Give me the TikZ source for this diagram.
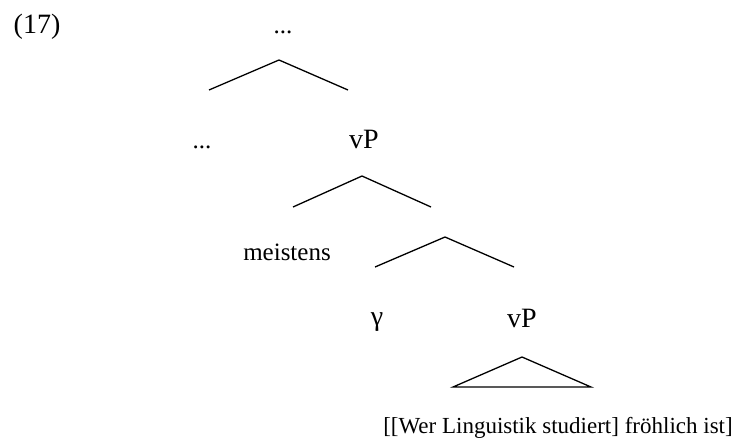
\documentclass[tikz,border=0pt]{standalone}
\usepackage{fontspec}
\setmainfont{Liberation Serif}
\usetikzlibrary{positioning}

\begin{document}
\begin{tikzpicture}[
  x=1pt, y=-1pt,
  cat/.style={inner sep=0pt, anchor=base, font=\fontsize{28}{32}\selectfont},
  word/.style={inner sep=0pt, anchor=base, font=\fontsize{25}{29}\selectfont},
  leaf/.style={inner sep=0pt, anchor=base, font=\fontsize{23}{27}\selectfont},
  branch/.style={line width=1.3pt},
]
\useasboundingbox (0,0) rectangle (743,445);

% example number
\node[cat] (exnum) at (37,33) {(17)};

% labels of the tree
\node[word] (top) at (283,33) {...};
\node[word] (dotsl) at (202,148) {...};
\node[cat] (vpa) at (364,148) {vP};
\node[word] (meistens) at (287,260) {meistens};
\node[cat] (gamma) at (377,325) {γ};
\node[cat] (vpb) at (522,327) {vP};
\node[leaf] (clause) at (558,433) {[[Wer Linguistik studiert] fröhlich ist]};

% branch points
\coordinate (apexa) at (279,60);
\coordinate (lefta) at (209,90);
\coordinate (righta) at (348,90);
\coordinate (apexb) at (362,176);
\coordinate (leftb) at (293,207);
\coordinate (rightb) at (431,207);
\coordinate (apexc) at (445,237);
\coordinate (leftc) at (375,267);
\coordinate (rightc) at (514,267);
\coordinate (apexd) at (522,357);
\coordinate (leftd) at (453,387);
\coordinate (rightd) at (591,387);

% branches
\draw[branch] (lefta) -- (apexa) -- (righta);
\draw[branch] (leftb) -- (apexb) -- (rightb);
\draw[branch] (leftc) -- (apexc) -- (rightc);
\draw[branch] (leftd) -- (apexd) -- (rightd) -- cycle;

\end{tikzpicture}
\end{document}
